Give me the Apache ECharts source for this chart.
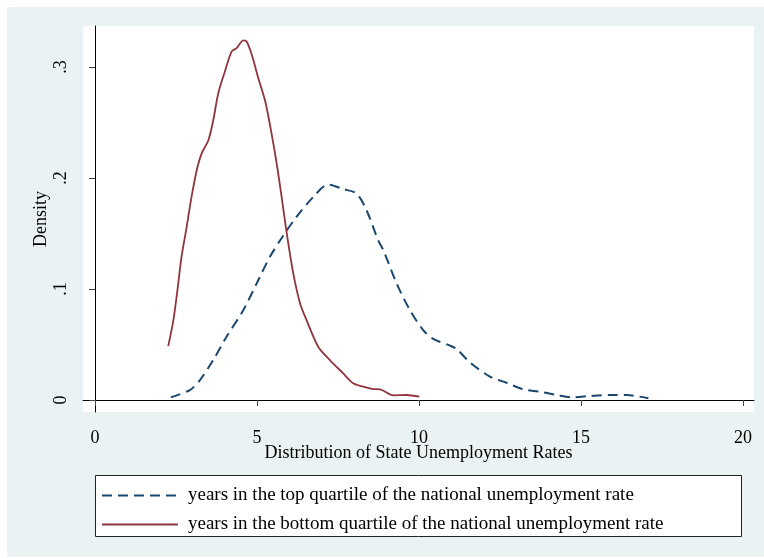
<!DOCTYPE html>
<html>
<head>
<meta charset="utf-8">
<script src="https://cdn.jsdelivr.net/npm/echarts@6/dist/echarts.min.js"></script>
<style>
html,body{margin:0;padding:0;background:#fff;}
#chart{width:764px;height:558px;}
</style>
</head>
<body>
<div id="chart"></div>
<script>
// Data
var topX = [2.34,2.93,3.24,3.65,4.06,4.58,4.99,5.40,5.81,6.22,6.74,7.20,7.66,8.07,8.38,8.74,8.90,9.31,9.72,10.13,10.44,10.96,11.16,11.57,12.19,12.70,13.22,13.73,14.25,14.76,15.28,15.90,16.41,17.08];
var topY = [0.0024,0.009,0.018,0.036,0.057,0.081,0.105,0.129,0.148,0.165,0.183,0.194,0.190,0.186,0.171,0.144,0.135,0.105,0.081,0.063,0.055,0.049,0.046,0.034,0.021,0.0155,0.0096,0.0075,0.0045,0.0024,0.0036,0.0045,0.0045,0.0015];
var botX = [2.26,2.42,2.57,2.67,2.83,2.98,3.14,3.29,3.50,3.65,3.81,4.01,4.22,4.37,4.58,4.68,4.84,5.04,5.25,5.45,5.61,5.76,5.92,6.12,6.33,6.53,6.89,7.25,7.66,7.97,8.28,8.59,8.80,9.21,9.62,10.01];
var botY = [0.0485,0.072,0.105,0.129,0.156,0.183,0.207,0.222,0.234,0.252,0.277,0.296,0.314,0.317,0.324,0.323,0.311,0.290,0.2695,0.240,0.2126,0.183,0.150,0.114,0.087,0.072,0.048,0.036,0.024,0.015,0.012,0.0099,0.0096,0.0042,0.0045,0.003];
var xTicks = [0,5,10,15,20];
var yTicks = [0,0.1,0.2,0.3];
var yTickLabels = ['0','.1','.2','.3'];
var seriesNames = ['years in the top quartile of the national unemployment rate',
                   'years in the bottom quartile of the national unemployment rate'];
var xTitle = 'Distribution of State Unemployment Rates';
var yTitle = 'Density';

function pairs(xs, ys){ return xs.map(function(x,i){ return [x, ys[i]]; }); }

var FONT = '"Liberation Serif","DejaVu Serif",serif';
var chart = echarts.init(document.getElementById('chart'), null, {renderer:'canvas'});
chart.setOption({
  backgroundColor:'#ffffff',
  animation:false,
  graphic:{elements:[
    {type:'rect', z:-10, shape:{x:7,y:7,width:757,height:550}, style:{fill:'#eaf2f3'}, silent:true},
    {type:'rect', z:-5, shape:{x:95.5,y:475.5,width:646,height:61}, style:{fill:'#ffffff', stroke:'#222', lineWidth:1}, silent:true}
  ]},
  grid:{left:83, right:10, top:26, bottom:146, show:true, backgroundColor:'#ffffff', borderWidth:0, containLabel:false},
  legend:{
    orient:'vertical', left:101, top:486, padding:0,
    itemWidth:76, itemHeight:14, itemGap:10,
    itemStyle:{opacity:0},
    textStyle:{fontFamily:FONT, fontSize:19, color:'#000', padding:[0,0,0,5]},
    data:[seriesNames[0], seriesNames[1]]
  },
  xAxis:{
    type:'value', min:-0.37, max:20.34,
    name:xTitle, nameLocation:'middle', nameGap:32, nameMoveOverlap:false,
    nameTextStyle:{fontFamily:FONT, fontSize:18, color:'#000'},
    axisLine:{show:true, lineStyle:{color:'#000', width:1}},
    axisTick:{show:true, length:6, lineStyle:{color:'#444'}, customValues:xTicks},
    axisLabel:{fontFamily:FONT, fontSize:18, color:'#000', margin:17, customValues:xTicks},
    splitLine:{show:false}
  },
  yAxis:{
    type:'value', min:-0.0108, max:0.3369,
    name:yTitle, nameLocation:'middle', nameGap:33, nameRotate:90, nameMoveOverlap:false,
    nameTextStyle:{fontFamily:FONT, fontSize:18, color:'#000'},
    axisLine:{show:true, lineStyle:{color:'#000', width:1}},
    axisTick:{show:true, length:6, lineStyle:{color:'#444'}, customValues:yTicks},
    axisLabel:{fontFamily:FONT, fontSize:18, color:'#000', margin:13, rotate:90,
      customValues:yTicks,
      formatter:function(v){ var i = yTicks.findIndex(function(t){return Math.abs(t-v)<1e-9;}); return i>=0 ? yTickLabels[i] : ''; }},
    splitLine:{show:false}
  },
  series:[
    {name:seriesNames[0], type:'line', data:pairs(topX, topY), showSymbol:false, symbol:'none', smooth:0.3,
     lineStyle:{color:'#1a476f', width:2, type:[10,6]}, itemStyle:{color:'#1a476f'}},
    {name:seriesNames[1], type:'line', data:pairs(botX, botY), showSymbol:false, symbol:'none', smooth:0.3,
     lineStyle:{color:'#90353b', width:1.8, type:'solid'}, itemStyle:{color:'#90353b'}}
  ]
});
</script>
</body>
</html>
